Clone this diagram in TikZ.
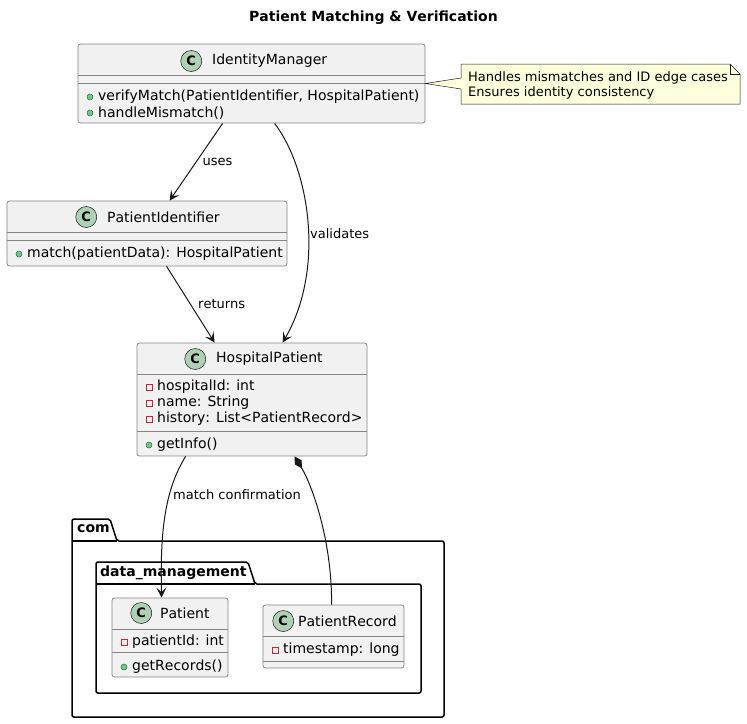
\documentclass[tikz,border=0pt]{standalone}
\usepackage{fontspec}
\setmainfont[Kerning=Off]{DejaVu Sans}
\usetikzlibrary{arrows.meta, calc, positioning}
\definecolor{clsfill}{HTML}{F1F1F1}
\definecolor{clsline}{HTML}{181818}
\definecolor{boxline}{HTML}{858585}
\definecolor{circfill}{HTML}{ADD1B2}
\definecolor{notefill}{HTML}{FEFFDD}
\definecolor{privred}{HTML}{C82930}
\definecolor{pubfill}{HTML}{84BE84}
\definecolor{publine}{HTML}{038048}
\tikzset{
  cls/.style={draw=boxline, fill=clsfill, line width=.8pt, rounded corners=2.5pt, inner sep=0pt},
  cname/.style={font=\fontsize{14}{16}\selectfont, inner sep=0pt, anchor=west},
  circC/.style={circle, draw=clsline, fill=circfill, line width=.5pt, minimum size=21pt, inner sep=0pt, font=\bfseries\fontsize{13}{13}\selectfont},
  mem/.style={font=\fontsize{14}{16}\selectfont, inner sep=0pt, anchor=west},
  priv/.style={draw=privred, line width=.6pt, minimum size=6pt, inner sep=0pt},
  pub/.style={circle, draw=publine, fill=pubfill, line width=.5pt, minimum size=6pt, inner sep=0pt},
  sep/.style={draw=boxline, line width=.8pt},
  lbl/.style={font=\fontsize{13}{15}\selectfont, inner sep=0pt, anchor=west},
  rel/.style={draw=clsline, line width=1pt, -{Stealth[length=10pt,width=10pt,inset=4.5pt]}},
  pkg/.style={draw=black, line width=1.5pt, rounded corners=2pt},
  pkgname/.style={font=\bfseries\fontsize{14}{16}\selectfont, inner sep=0pt, anchor=west}
}
\begin{document}
\begin{tikzpicture}[x=1pt, y=-1pt]
\useasboundingbox (0,0) rectangle (747,723);
\node[font=\bfseries\fontsize{14}{16}\selectfont] (title) at (373.5,18) {Patient Matching \& Verification};

% packages
\draw[pkg] (72,717) -- (72,519) -- (110,519) -- (117,541) -- (444,541) -- (444,717) -- cycle;
\draw[pkg] (72,541) -- (117,541);
\node[pkgname] (com) at (77,529) {com};
\draw[pkg] (96,693) -- (96,562) -- (248,562) -- (255,584) -- (421,584) -- (421,693) -- cycle;
\draw[pkg] (96,584) -- (255,584);
\node[pkgname] (dm) at (100,573) {data\_management};

% IdentityManager
\node[cls, minimum width=347pt, minimum height=79pt] (im) at (251.5,83.5) {};
\node[cname] (imn) at (212,61) {IdentityManager};
\node[circC, left=10pt of imn] (imc) {C};
\draw[sep] ($(im.north west)+(0,32)$) -- ($(im.north east)+(0,32)$);
\draw[sep] ($(im.north west)+(0,39.5)$) -- ($(im.north east)+(0,39.5)$);
\foreach \m [count=\i] in {{verifyMatch(PatientIdentifier, HospitalPatient)}, handleMismatch()} {
  \node[pub] (imd\i) at (90,81+16*\i) {};
  \node[mem] (imm\i) at (98,81+16*\i) {\m};
}

% PatientIdentifier
\node[cls, minimum width=280pt, minimum height=65pt] (pi) at (147,233.5) {};
\node[cname] (pin) at (107,217) {PatientIdentifier};
\node[circC, left=10pt of pin] (pic) {C};
\draw[sep] ($(pi.north west)+(0,32)$) -- ($(pi.north east)+(0,32)$);
\draw[sep] ($(pi.north west)+(0,40)$) -- ($(pi.north east)+(0,40)$);
\node[pub] (pid1) at (19,254) {};
\node[mem] (pim1) at (27,254) {match(patientData): HospitalPatient};

% HospitalPatient
\node[cls, minimum width=230pt, minimum height=113pt] (hp) at (252,399.5) {};
\node[cname] (hpn) at (216,359) {HospitalPatient};
\node[circC, left=10pt of hpn] (hpc) {C};
\draw[sep] ($(hp.north west)+(0,32)$) -- ($(hp.north east)+(0,32)$);
\draw[sep] ($(hp.north west)+(0,89)$) -- ($(hp.north east)+(0,89)$);
\foreach \a [count=\i] in {hospitalId: int, name: String, history: List<PatientRecord>} {
  \node[priv] (hpd\i) at (149,371+16*\i) {};
  \node[mem] (hpa\i) at (157,371+16*\i) {\a};
}
\node[pub] (hpd4) at (149,445) {};
\node[mem] (hpm1) at (157,445) {getInfo()};

% Patient
\node[cls, minimum width=116pt, minimum height=79pt] (pa) at (170,637.5) {};
\node[cname] (pan) at (160,613) {Patient};
\node[circC, left=8pt of pan] (pac) {C};
\draw[sep] ($(pa.north west)+(0,32)$) -- ($(pa.north east)+(0,32)$);
\draw[sep] ($(pa.north west)+(0,55)$) -- ($(pa.north east)+(0,55)$);
\node[priv] (pad1) at (124,642) {};
\node[mem] (paa1) at (132,642) {patientId: int};
\node[pub] (pad2) at (124,667) {};
\node[mem] (pam1) at (132,667) {getRecords()};

% PatientRecord
\node[cls, minimum width=141pt, minimum height=63pt] (pr) at (333.5,636.5) {};
\node[cname] (prn) at (298,621) {PatientRecord};
\node[circC, left=4pt of prn] (prc) {C};
\draw[sep] ($(pr.north west)+(0,32)$) -- ($(pr.north east)+(0,32)$);
\draw[sep] ($(pr.north west)+(0,57)$) -- ($(pr.north east)+(0,57)$);
\node[priv] (prd1) at (275,650) {};
\node[mem] (pra1) at (283,650) {timestamp: long};

% note
\filldraw[fill=notefill, draw=clsline, line width=.5pt] (461,64) -- (730,64) -- (740,74) -- (740,104)
  -- (461,104) -- (461,89) -- (im.east) -- (461,78) -- cycle;
\draw[clsline, line width=.5pt] (730,64) -- (730,74) -- (740,74);
\node[lbl] (nt1) at (468,77.5) {Handles mismatches and ID edge cases};
\node[lbl] (nt2) at (468,92.5) {Ensures identity consistency};

% relations
\draw[rel] ($(im.south west)+(145,0)$) -- ($(pi.north west)+(163,0)$)
  node[lbl, pos=.5, xshift=6pt] (luses) {uses};
\draw[rel] ($(im.south west)+(197,0)$) .. controls (310,170) and (325,270) .. ($(hp.north west)+(146,0)$);
\node[lbl] (lval) at (310,234) {validates};
\draw[rel] ($(pi.south west)+(160,0)$) -- ($(hp.north west)+(78,0)$);
\node[lbl] (lret) at (198,304) {returns};
\draw[rel] ($(hp.south west)+(49,0)$) .. controls (165,490) and (160,530) .. ($(pa.north west)+(50,0)$);
\node[lbl] (lmc) at (173,495) {match confirmation};
\draw[draw=clsline, line width=1pt, {Diamond[length=14pt,width=8pt]}-] ($(hp.south west)+(158,0)$)
  .. controls (312,485) and (332,540) .. ($(pr.north west)+(69,0)$);
\end{tikzpicture}
\end{document}
